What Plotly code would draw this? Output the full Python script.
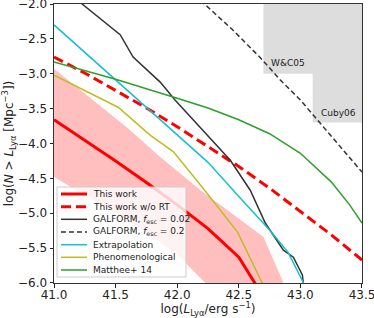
import plotly.graph_objects as go

# ---- data ----
red_x = [41.0, 41.25, 41.5, 41.75, 42.0, 42.25, 42.5, 42.63, 42.66]
red_y = [-3.66, -3.95, -4.25, -4.56, -4.88, -5.22, -5.63, -6.0, -6.1]

band_up_x = [41.0, 41.317, 41.6, 41.86, 42.02, 42.19, 42.45, 42.7, 42.854, 42.87]
band_up_y = [-2.93, -3.38, -3.78, -4.19, -4.42, -4.67, -5.01, -5.34, -5.96, -6.05]
band_lo_x = [41.0, 41.5, 41.75, 42.02, 42.23, 42.25]
band_lo_y = [-4.48, -5.0, -5.27, -5.63, -6.0, -6.05]

red_dash_x = [41.0, 41.25, 41.5, 41.75, 42.0, 42.25, 42.5, 42.75, 43.0, 43.25, 43.5]
red_dash_y = [-2.76, -2.99, -3.24, -3.49, -3.76, -4.04, -4.33, -4.64, -4.97, -5.31, -5.67]

galform02_x = [41.2, 41.228, 41.537, 41.642, 41.862, 41.984, 42.431, 42.593, 42.715,
               42.862, 42.943, 43.016, 43.024, 43.03]
galform02_y = [-1.95, -2.0, -2.44, -2.76, -3.12, -3.38, -4.24, -4.67, -5.14,
               -5.53, -5.63, -5.885, -6.0, -6.1]

galform2_x = [42.19, 42.22, 42.45, 42.675, 42.837, 43.0, 43.138, 43.325, 43.5]
galform2_y = [-1.95, -2.0, -2.37, -2.77, -3.09, -3.376, -3.663, -4.05, -4.41]

extrap_x = [41.0, 41.25, 41.5, 41.75, 42.0, 42.25, 42.5, 42.75, 42.9, 43.0, 43.03, 43.04]
extrap_y = [-2.30, -2.695, -3.09, -3.475, -3.87, -4.27, -4.76, -5.24, -5.56, -5.9, -6.0, -6.05]

pheno_x = [41.0, 41.52, 41.78, 41.97, 42.2, 42.49, 42.69, 42.71]
pheno_y = [-3.02, -3.48, -3.88, -4.12, -4.62, -5.27, -6.0, -6.1]

matthee_x = [41.0, 41.5, 42.0, 42.25, 42.5, 42.75, 43.0, 43.25, 43.4, 43.5]
matthee_y = [-2.83, -3.08, -3.35, -3.49, -3.66, -3.86, -4.14, -4.55, -4.88, -5.14]

# observational limits (shaded regions)
wc05_x = [42.7, 43.5, 43.5, 42.7, 42.7]
wc05_y = [-1.9, -1.9, -3.0, -3.0, -1.9]
cuby_x = [43.1, 43.5, 43.5, 43.1, 43.1]
cuby_y = [-1.9, -1.9, -3.7, -3.7, -1.9]
region_labels = ["W&C05", "Cuby06"]
region_label_x = [42.745, 43.15]
region_label_y = [-2.85, -3.56]

x_ticks = [41.0, 41.5, 42.0, 42.5, 43.0, 43.5]
y_ticks = [-6.0, -5.5, -5.0, -4.5, -4.0, -3.5, -3.0, -2.5, -2.0]

FONT = "DejaVu Sans"
RED = "#ff0000"
BLACK = "#333333"
CYAN = "#17becf"
OLIVE = "#bcbd22"
GREEN = "#2ca02c"

fig = go.Figure()

# shaded observational regions
for rx, ry in [(wc05_x, wc05_y), (cuby_x, cuby_y)]:
    fig.add_trace(go.Scatter(x=rx, y=ry, fill="toself", fillcolor="#dddddd",
                             line=dict(width=0), mode="lines", showlegend=False,
                             hoverinfo="skip"))

# pink band
fig.add_trace(go.Scatter(x=band_up_x + band_lo_x[::-1], y=band_up_y + band_lo_y[::-1],
                         fill="toself", fillcolor="rgba(255,0,0,0.25)",
                         line=dict(width=0), mode="lines", showlegend=False,
                         hoverinfo="skip"))

series = [
    ("This work", red_x, red_y, RED, 3, "solid"),
    ("This work w/o RT", red_dash_x, red_dash_y, RED, 3, "10px,5px"),
    ("GALFORM, <i>f</i><sub>esc</sub> = 0.02", galform02_x, galform02_y, BLACK, 1.5, "solid"),
    ("GALFORM, <i>f</i><sub>esc</sub> = 0.2", galform2_x, galform2_y, BLACK, 1.5, "5px,3px"),
    ("Extrapolation", extrap_x, extrap_y, CYAN, 1.5, "solid"),
    ("Phenomenological", pheno_x, pheno_y, OLIVE, 1.5, "solid"),
    ("Matthee+ 14", matthee_x, matthee_y, GREEN, 1.5, "solid"),
]
for name, sx, sy, col, w, dash in series:
    fig.add_trace(go.Scatter(x=sx, y=sy, mode="lines", name=name,
                             line=dict(color=col, width=w, dash=dash),
                             showlegend=False))

# region labels
for t, lx, ly in zip(region_labels, region_label_x, region_label_y):
    fig.add_annotation(x=lx, y=ly, text=t, showarrow=False, xanchor="left",
                       yanchor="middle", font=dict(family=FONT, size=9, color="#222"))

# manual compact legend (paper coordinates)
L0, R0, T0, B0 = 54, 362, 4, 283
pw, ph = R0 - L0, B0 - T0
def px(v):
    return (v - L0) / pw
def py(v):
    return (B0 - v) / ph

fig.add_shape(type="rect", xref="paper", yref="paper",
              x0=px(57), x1=px(186), y0=py(277), y1=py(187),
              fillcolor="rgba(255,255,255,0.8)", line=dict(color="#cccccc", width=1),
              layer="above")
entry_y = [194, 206.7, 219.3, 232, 244.7, 257.3, 270]
for (name, sx, sy, col, w, dash), ey in zip(series, entry_y):
    fig.add_shape(type="line", xref="paper", yref="paper",
                  x0=px(61), x1=px(87), y0=py(ey), y1=py(ey),
                  line=dict(color=col, width=w, dash=dash), layer="above")
    fig.add_annotation(xref="paper", yref="paper", x=px(91), y=py(ey), text=name,
                       showarrow=False, xanchor="left", yanchor="middle",
                       font=dict(family=FONT, size=9, color="#222"))

axis_common = dict(showgrid=False, zeroline=False, showline=True, linecolor="#333",
                   linewidth=1, mirror=True, ticks="outside", ticklen=3.5,
                   tickwidth=0.8, tickcolor="#222", tickformat=".1f",
                   automargin=False, ticklabeloverflow="allow",
                   tickfont=dict(family=FONT, size=12, color="#222"))

fig.update_layout(
    width=374, height=318,
    margin=dict(l=L0, r=374 - R0, t=T0, b=318 - B0),
    plot_bgcolor="white", paper_bgcolor="white",
    font=dict(family=FONT, size=12, color="#222"),
    xaxis=dict(range=[40.9999, 43.5001], tickvals=x_ticks, ticklabelstandoff=-3,
               title=dict(text="log(<i>L</i><sub>Lyα</sub>/erg s<sup>−1</sup>)",
                          font=dict(family=FONT, size=12), standoff=0),
               **axis_common),
    yaxis=dict(range=[-6.0001, -1.9999], tickvals=y_ticks,
               title=dict(text="log(<i>N</i> &gt; <i>L</i><sub>Lyα</sub> [Mpc<sup>−3</sup>])",
                          font=dict(family=FONT, size=12), standoff=4),
               **axis_common),
    showlegend=False,
)

fig.write_html("out.html", config={"displayModeBar": False})

# remove the default page margin so the figure sits at the window's top-left corner
with open("out.html", "r", encoding="utf-8") as f:
    html = f.read()
html = html.replace("<head>", "<head><style>html,body{margin:0;padding:0;overflow:hidden;}</style>", 1)
with open("out.html", "w", encoding="utf-8") as f:
    f.write(html)
